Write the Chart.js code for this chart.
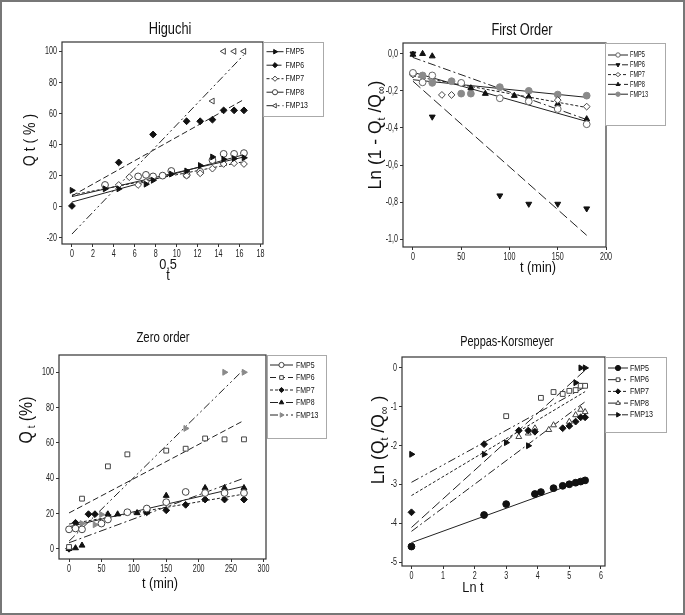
<!DOCTYPE html>
<html>
<head>
<meta charset="utf-8">
<script src="https://cdn.jsdelivr.net/npm/chart.js@4.4.1/dist/chart.umd.min.js"></script>
<style>
  html, body { margin: 0; padding: 0; background: #fff; }
  #wrap { position: relative; width: 685px; height: 615px; overflow: hidden; }
  #wrap canvas { position: absolute; left: 0; top: 0; }
  #frame { position: absolute; left: 0; top: 0; width: 681px; height: 611px; border: 2px solid #777; }
</style>
</head>
<body>
<div id="wrap">
  <canvas id="c1" width="685" height="615"></canvas>
  <canvas id="c2" width="685" height="615"></canvas>
  <canvas id="c3" width="685" height="615"></canvas>
  <canvas id="c4" width="685" height="615"></canvas>
  <div id="frame"></div>
</div>
<script>
// ---- data ----
const names = ['FMP5', 'FMP6', 'FMP7', 'FMP8', 'FMP13'];

// Higuchi: x = t^0.5
const higX = [0, 3.16, 4.47, 5.48, 6.32, 7.07, 7.75, 8.66, 9.49, 10.95, 12.25, 13.42, 14.49, 15.49, 16.43];
const higFMP5 = [10.5, 11.5, 11.5, null, null, 14.5, 17, null, 21, 23, 26.5, 32, 30.5, 31, 31.5];
const higFMP6 = [0.5, null, 28.5, null, null, null, 46.5, null, null, 55, 55, 56, 62, 62, 62];
const higFMP7 = [null, null, 14, 19, 14, 16, null, null, null, 20, 21.5, 24.5, 27.5, 28, 27.5];
const higFMP8 = [null, 14, null, null, 19.5, 20.5, 19.5, 20, 23, 20.5, 22.5, 30, 34, 34, 34.5];
const higFMP13 = [null, null, null, null, null, null, null, null, null, null, null, 68, 100, 100, 100];
const higFitX = [0, 16.43];
const higFit = [[6.5, 32], [7, 69], [7.5, 29], [3, 33.5], [-17.6, 97.8]];
const higXTicks = [0, 18, 2];
const higYTicks = [-20, 100, 20];

// First order: x = t (min), y = ln(1 - Qt/Qinf)
const foX = [0, 10, 20, 30, 40, 50, 60, 75, 90, 105, 120, 150, 180];
const foFMP5 = [-0.103, -0.154, -0.117, null, null, -0.157, null, null, -0.24, null, -0.257, -0.298, -0.38];
const foFMP6 = [0, null, -0.34, null, null, null, null, null, -0.765, null, -0.81, -0.81, -0.835];
const foFMP7 = [-0.112, null, null, -0.222, -0.222, null, null, null, null, null, null, -0.25, -0.285];
const foFMP8 = [-0.004, 0, -0.013, null, null, null, -0.185, -0.215, null, -0.226, -0.233, -0.27, -0.352];
const foFMP13 = [-0.107, -0.117, -0.157, null, -0.148, -0.215, -0.215, null, -0.18, null, -0.2, -0.22, -0.226];
const foFitX = [0, 180];
const foFit = [[-0.10, -0.365], [-0.148, -0.979], [-0.12, -0.29], [-0.02, -0.355], [-0.14, -0.235]];
const foXTicks = [0, 200, 50];
const foYTicks = [-1, 0, 0.2];

// Zero order: x = t (min), y = Qt (%)
const zoX = [0, 10, 20, 30, 40, 50, 60, 75, 90, 105, 120, 150, 180, 210, 240, 270];
const zoFMP5 = [11, 11.5, 11, null, null, 14.3, 16.6, null, 20.7, null, 22.8, 26.4, 32.2, 31.6, 31.6, 31.6];
const zoFMP6 = [1, null, 28.4, null, null, null, 46.7, null, 53.5, null, null, 55.6, 56.7, 62.5, 62, 62];
const zoFMP7 = [0, 14.7, null, 19.6, 19.6, null, null, null, null, null, 20.7, 21.8, 24.9, 27.9, 27.9, 27.9];
const zoFMP8 = [0, 0.4, 1.9, null, null, null, 19.6, 19.6, null, 20.3, 20.7, 30.1, null, 34.5, 34.5, 34.5];
const zoFMP13 = [10.9, null, 14.3, null, 13.6, 19.4, 19.2, null, null, null, null, null, 68.2, null, 100, 100];
const zoFitX = [0, 270];
const zoFit = [[12.5, 35.4], [20.3, 72.7], [14, 31], [3.4, 40], [4.3, 101.7]];
const zoXTicks = [0, 300, 50];
const zoYTicks = [0, 100, 20];

// Peppas-Korsmeyer: x = ln t, y = ln(Qt/Qinf)
const pkX = [0, 2.3, 3.0, 3.4, 3.7, 3.91, 4.1, 4.35, 4.5, 4.79, 5.0, 5.2, 5.36, 5.5];
const pkFMP5 = [-4.6, -3.79, -3.51, null, null, -3.25, -3.2, null, -3.1, -3.04, -3.0, -2.96, -2.93, -2.9];
const pkFMP6 = [-4.6, null, -1.25, null, null, null, -0.78, null, -0.63, -0.68, -0.6, -0.58, -0.47, -0.47];
const pkFMP7 = [-3.72, -1.97, null, -1.62, -1.62, -1.65, null, null, null, -1.56, -1.5, -1.39, -1.28, -1.28];
const pkFMP8 = [null, null, null, -1.78, -1.69, -1.56, null, -1.6, -1.48, null, -1.39, -1.22, -1.08, -1.14];
const pkFMP13 = [-2.23, -2.23, -1.93, null, -2.01, null, null, null, null, null, null, -0.39, -0.01, -0.01];
const pkFitX = [0, 5.5];
const pkFit = [[-4.5, -2.88], [-2.95, -0.5], [-3.29, -0.62], [-4.21, -0.88], [-4.11, -0.07]];
const pkXTicks = [0, 6, 1];
const pkYTicks = [-5, 0, 1];

// ---- drawing ----
const FONT = "'Liberation Sans', Arial, sans-serif";
const DASH = {
  solid: [], dash: [6, 3], short: [3, 2], long: [10, 4],
  dashdot: [8, 3, 2, 3], dashdotdot: [8, 3, 2, 3, 2, 3]
};
const BLACK = '#111', GREY = '#8a8a8a';

function pts(xs, ys) {
  return xs.map((x, i) => ({ x: x, y: ys[i] })).filter(p => p.y !== null);
}

function comma(v) { return (Math.round(v * 10) / 10).toFixed(1).replace('.', ','); }

// text squeezed horizontally (the figure uses a narrow face)
function narrow(ctx, text, x, y, size, align, sx) {
  ctx.save();
  ctx.translate(x, y);
  ctx.scale(sx, 1);
  ctx.font = size + 'px ' + FONT;
  ctx.textAlign = align;
  ctx.textBaseline = 'middle';
  ctx.fillText(text, 0, 0);
  ctx.restore();
}

function richText(ctx, parts, x, y, size, rotate, sx) {
  ctx.save();
  ctx.translate(x, y);
  if (rotate) ctx.rotate(-Math.PI / 2);
  ctx.scale(sx, 1);
  ctx.textBaseline = 'middle';
  ctx.textAlign = 'left';
  ctx.fillStyle = '#111';
  let w = 0;
  parts.forEach(p => {
    ctx.font = (p[1] ? size * 0.62 : size) + 'px ' + FONT;
    w += ctx.measureText(p[0]).width;
  });
  let cx = -w / 2;
  parts.forEach(p => {
    ctx.font = (p[1] ? size * 0.62 : size) + 'px ' + FONT;
    ctx.fillText(p[0], cx, p[1] ? size * 0.3 : 0);
    cx += ctx.measureText(p[0]).width;
  });
  ctx.restore();
}

const decor = {
  id: 'decor',
  afterDraw(chart) {
    const p = chart.options.plugins.decor;
    const ctx = chart.ctx, a = chart.chartArea;
    const sx = chart.scales.x, sy = chart.scales.y;
    ctx.save();
    ctx.strokeStyle = '#333';
    ctx.lineWidth = 1.2;
    ctx.strokeRect(a.left, a.top, a.right - a.left, a.bottom - a.top);

    // tick labels, placed by the chart's own scales
    ctx.fillStyle = '#222';
    sx.ticks.forEach(t => {
      if (t.value < p.xt[0] - 1e-9 || t.value > p.xt[1] + 1e-9) return;
      narrow(ctx, String(Math.round(t.value)), sx.getPixelForValue(t.value), a.bottom + 10, 11.5, 'center', 0.62);
    });
    sy.ticks.forEach(t => {
      if (t.value < p.yt[0] - 1e-9 || t.value > p.yt[1] + 1e-9) return;
      const s = p.comma ? comma(t.value) : String(Math.round(t.value));
      narrow(ctx, s, a.left - 5, sy.getPixelForValue(t.value), 11.5, 'right', 0.62);
    });

    p.texts.forEach(t => richText(ctx, t.parts, t.x, t.y, t.size, t.rot, t.sx || 0.8));

    // legend box
    const L = p.legend;
    ctx.strokeStyle = '#aaa';
    ctx.lineWidth = 1;
    ctx.fillStyle = '#fff';
    ctx.fillRect(L.l, L.t, L.r - L.l, L.b - L.t);
    ctx.strokeRect(L.l + 0.5, L.t + 0.5, L.r - L.l, L.b - L.t);
    p.styles.forEach((s, i) => {
      const y = L.y0 + i * L.dy;
      ctx.strokeStyle = '#222';
      ctx.lineWidth = 1;
      ctx.setLineDash(DASH[s.dash]);
      ctx.beginPath();
      ctx.moveTo(L.lx0, y);
      ctx.lineTo(L.lx1, y);
      ctx.stroke();
      ctx.setLineDash([]);
      ctx.fillStyle = s.fill;
      ctx.strokeStyle = s.stroke;
      Chart.helpers.drawPoint(ctx, { pointStyle: s.mk, rotation: s.rot || 0, radius: L.mr, borderWidth: 1 }, (L.lx0 + L.lx1) / 2, y);
      ctx.fillStyle = '#111';
      narrow(ctx, names[i], L.tx, y, L.size, 'left', L.sx);
    });
    ctx.restore();
  }
};

function makePanel(id, p) {
  const datasets = [];
  p.series.forEach((ys, i) => {
    const s = p.styles[i];
    datasets.push({
      label: names[i] + ' fit',
      data: pts(p.fitX, p.fit[i]),
      showLine: true,
      borderColor: '#222',
      borderWidth: 1,
      borderDash: DASH[s.dash],
      pointRadius: 0,
      order: 2
    });
    datasets.push({
      label: names[i],
      data: pts(p.x, ys),
      showLine: false,
      pointStyle: s.mk,
      pointRotation: s.rot || 0,
      pointRadius: 3.4,
      pointBackgroundColor: s.fill,
      pointBorderColor: s.stroke,
      pointBorderWidth: 1,
      order: 1
    });
  });
  const f = p.frame;
  const yW = 40, xH = 22;
  const axisCommon = {
    type: 'linear',
    grid: { display: true, drawOnChartArea: false, drawTicks: true, tickLength: 3, color: '#333' },
    border: { display: false }
  };
  new Chart(document.getElementById(id), {
    type: 'scatter',
    data: { datasets: datasets },
    options: {
      responsive: false,
      animation: false,
      layout: { padding: { left: f.l - yW, top: f.t, right: 685 - f.r, bottom: 615 - f.b - xH } },
      scales: {
        x: Object.assign({}, axisCommon, {
          min: p.xr[0], max: p.xr[1],
          afterFit: s => { s.height = xH; },
          ticks: { display: false, includeBounds: false, stepSize: p.xt[2] }
        }),
        y: Object.assign({}, axisCommon, {
          min: p.yr[0], max: p.yr[1],
          afterFit: s => { s.width = yW; },
          ticks: { display: false, includeBounds: false, stepSize: p.yt[2] }
        })
      },
      plugins: {
        legend: { display: false },
        tooltip: { enabled: false },
        decor: { texts: p.texts, legend: p.legend, styles: p.styles, xt: p.xt, yt: p.yt, comma: p.comma }
      }
    },
    plugins: [decor]
  });
}

makePanel('c1', {
  x: higX, series: [higFMP5, higFMP6, higFMP7, higFMP8, higFMP13], fitX: higFitX, fit: higFit,
  xt: higXTicks, yt: higYTicks,
  frame: { l: 62, t: 42, r: 263, b: 244 }, xr: [-0.95, 18.25], yr: [-24, 106],
  styles: [
    { mk: 'triangle', rot: 90, fill: BLACK, stroke: BLACK, dash: 'solid' },
    { mk: 'rectRot', fill: BLACK, stroke: BLACK, dash: 'dash' },
    { mk: 'rectRot', fill: '#fff', stroke: '#444', dash: 'short' },
    { mk: 'circle', fill: '#fff', stroke: '#444', dash: 'solid' },
    { mk: 'triangle', rot: -90, fill: '#fff', stroke: '#444', dash: 'dashdotdot' }
  ],
  texts: [
    { parts: [['Higuchi']], x: 170, y: 30, size: 16 },
    { parts: [['0,5']], x: 168, y: 265, size: 15, sx: 0.85 },
    { parts: [['t']], x: 168, y: 276, size: 15, sx: 0.85 },
    { parts: [['Q t ( % )']], x: 31, y: 140, size: 16, rot: true, sx: 0.88 }
  ],
  legend: { l: 263, t: 42, r: 323, b: 116, y0: 51.7, dy: 13.5, lx0: 266.5, lx1: 283.5, tx: 285.5, size: 9.5, sx: 0.73, mr: 2.6 }
});

makePanel('c2', {
  x: foX, series: [foFMP5, foFMP6, foFMP7, foFMP8, foFMP13], fitX: foFitX, fit: foFit,
  xt: foXTicks, yt: foYTicks, comma: true,
  frame: { l: 403, t: 43, r: 606, b: 247 }, xr: [-10.3, 200], yr: [-1.042, 0.058],
  styles: [
    { mk: 'circle', fill: '#fff', stroke: '#666', dash: 'solid' },
    { mk: 'triangle', rot: 180, fill: BLACK, stroke: BLACK, dash: 'long' },
    { mk: 'rectRot', fill: '#fff', stroke: '#444', dash: 'short' },
    { mk: 'triangle', fill: BLACK, stroke: BLACK, dash: 'dashdot' },
    { mk: 'circle', fill: GREY, stroke: GREY, dash: 'solid' }
  ],
  texts: [
    { parts: [['First Order']], x: 522, y: 31, size: 16 },
    { parts: [['t (min)']], x: 538, y: 268, size: 15, sx: 0.85 },
    { parts: [['Ln (1 - Q'], ['t', 1], [' /Q'], ['\u221E', 1], [')']], x: 376, y: 135, size: 19, rot: true, sx: 0.92 }
  ],
  legend: { l: 605, t: 43, r: 665, b: 125, y0: 55, dy: 9.8, lx0: 608, lx1: 628, tx: 630, size: 8.5, sx: 0.66, mr: 2.2 }
});

makePanel('c3', {
  x: zoX, series: [zoFMP5, zoFMP6, zoFMP7, zoFMP8, zoFMP13], fitX: zoFitX, fit: zoFit,
  xt: zoXTicks, yt: zoYTicks,
  frame: { l: 59, t: 355, r: 266, b: 559 }, xr: [-15.5, 304], yr: [-5.8, 109.8],
  styles: [
    { mk: 'circle', fill: '#fff', stroke: '#444', dash: 'solid' },
    { mk: 'rect', fill: '#fff', stroke: '#444', dash: 'dash' },
    { mk: 'rectRot', fill: BLACK, stroke: BLACK, dash: 'short' },
    { mk: 'triangle', fill: BLACK, stroke: BLACK, dash: 'dashdot' },
    { mk: 'triangle', rot: 90, fill: GREY, stroke: GREY, dash: 'dashdotdot' }
  ],
  texts: [
    { parts: [['Zero order']], x: 163, y: 338, size: 15, sx: 0.76 },
    { parts: [['t (min)']], x: 160, y: 584, size: 15, sx: 0.85 },
    { parts: [['Q'], [' t', 1], [' (%)']], x: 27, y: 420, size: 18, rot: true, sx: 0.88 }
  ],
  legend: { l: 267, t: 355, r: 326, b: 438, y0: 365, dy: 12.5, lx0: 270, lx1: 293, tx: 296, size: 9.5, sx: 0.73, mr: 2.6 }
});

makePanel('c4', {
  x: pkX, series: [pkFMP5, pkFMP6, pkFMP7, pkFMP8, pkFMP13], fitX: pkFitX, fit: pkFit,
  xt: pkXTicks, yt: pkYTicks,
  frame: { l: 402, t: 357, r: 605, b: 566 }, xr: [-0.3, 6.13], yr: [-5.1, 0.27],
  styles: [
    { mk: 'circle', fill: BLACK, stroke: BLACK, dash: 'solid' },
    { mk: 'rect', fill: '#fff', stroke: '#444', dash: 'dashdotdot' },
    { mk: 'rectRot', fill: BLACK, stroke: BLACK, dash: 'short' },
    { mk: 'triangle', fill: '#fff', stroke: '#444', dash: 'dashdot' },
    { mk: 'triangle', rot: 90, fill: BLACK, stroke: BLACK, dash: 'long' }
  ],
  texts: [
    { parts: [['Peppas-Korsmeyer']], x: 507, y: 342, size: 14, sx: 0.78 },
    { parts: [['Ln t']], x: 473, y: 588, size: 15, sx: 0.85 },
    { parts: [['Ln (Q'], ['t', 1], [' /Q'], ['\u221E', 1], [' )']], x: 379, y: 440, size: 19, rot: true, sx: 0.92 }
  ],
  legend: { l: 605, t: 357, r: 666, b: 432, y0: 368, dy: 11.7, lx0: 608, lx1: 628, tx: 630, size: 9.5, sx: 0.75, mr: 2.6 }
});
</script>
</body>
</html>
